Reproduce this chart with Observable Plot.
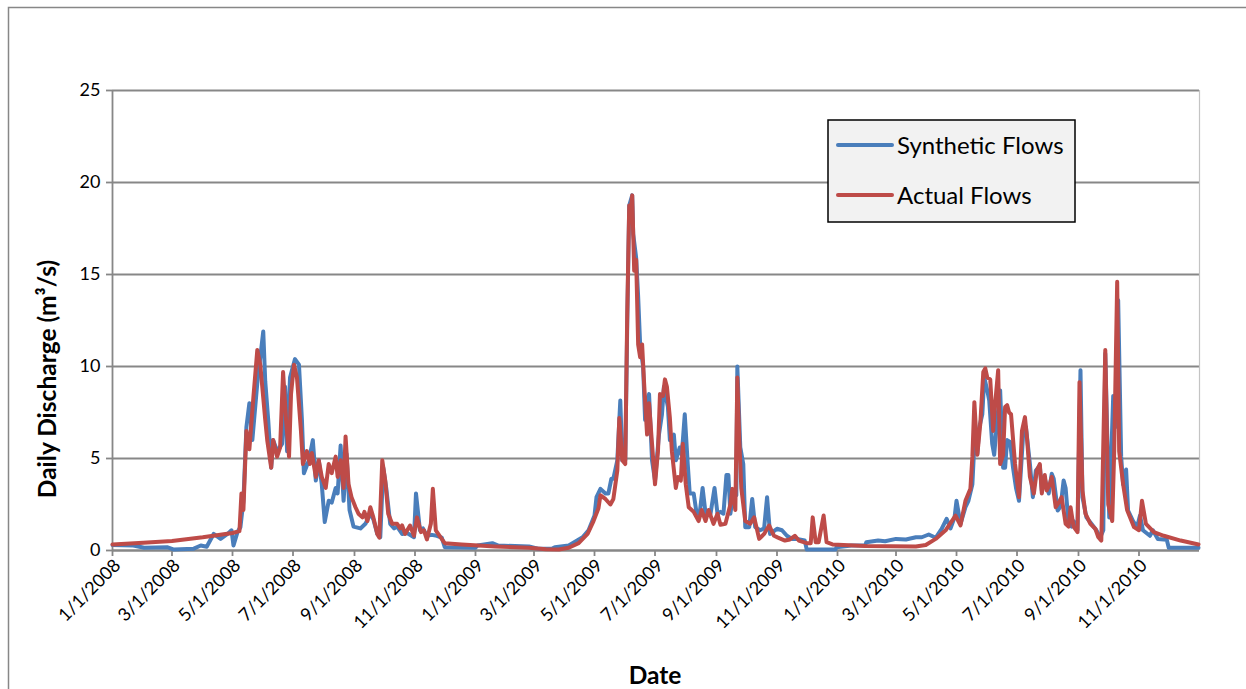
<!DOCTYPE html>
<html>
<head>
<meta charset="utf-8">
<script src="https://cdn.jsdelivr.net/npm/d3@7"></script>
<script src="https://cdn.jsdelivr.net/npm/@observablehq/plot@0.6"></script>
<style>
  html, body { margin: 0; padding: 0; background: #fff; }
  #chart { width: 1246px; height: 689px; overflow: hidden; }
</style>
</head>
<body>
<div id="chart"></div>
<script>
// Daily discharge (m³/s): [date, flow] readings for each series
const syntheticFlows = [
  ["2008-01-01",0.30],["2008-01-22",0.27],["2008-02-02",0.15],["2008-02-25",0.18],["2008-03-03",0.05],
  ["2008-03-23",0.10],["2008-03-30",0.27],["2008-04-05",0.20],["2008-04-12",0.90],["2008-04-19",0.63],
  ["2008-04-26",0.90],["2008-04-30",1.10],["2008-05-02",0.27],["2008-05-06",1.00],["2008-05-09",1.27],
  ["2008-05-12",2.70],["2008-05-15",6.70],["2008-05-18",8.00],["2008-05-21",6.00],["2008-05-26",9.10],
  ["2008-05-29",10.50],["2008-06-01",11.90],["2008-06-03",9.20],["2008-06-06",7.10],["2008-06-09",4.50],
  ["2008-06-11",6.00],["2008-06-15",5.40],["2008-06-20",5.80],["2008-06-23",8.90],["2008-06-25",5.40],
  ["2008-06-28",9.40],["2008-07-03",10.40],["2008-07-07",10.10],["2008-07-10",7.10],["2008-07-12",4.20],
  ["2008-07-17",4.90],["2008-07-21",6.00],["2008-07-24",3.80],["2008-07-27",4.90],["2008-07-30",3.60],
  ["2008-08-02",1.55],["2008-08-06",2.70],["2008-08-09",2.60],["2008-08-13",3.40],["2008-08-15",3.10],
  ["2008-08-18",5.70],["2008-08-21",2.70],["2008-08-24",5.25],["2008-08-27",2.20],["2008-08-31",1.30],
  ["2008-09-07",1.20],["2008-09-12",1.45],["2008-09-17",2.00],["2008-09-20",1.70],["2008-09-24",0.90],
  ["2008-09-27",0.72],["2008-09-30",4.50],["2008-10-03",3.40],["2008-10-07",1.45],["2008-10-11",1.20],
  ["2008-10-14",1.30],["2008-10-19",0.90],["2008-10-24",0.95],["2008-10-31",0.72],["2008-11-02",3.10],
  ["2008-11-06",1.10],["2008-11-09",1.20],["2008-11-13",0.80],["2008-11-18",0.85],["2008-11-23",0.80],
  ["2008-11-28",0.70],["2008-12-01",0.18],["2009-01-01",0.15],["2009-01-03",0.27],["2009-01-18",0.40],
  ["2009-01-24",0.27],["2009-02-24",0.22],["2009-03-06",0.09],["2009-03-19",0.09],["2009-03-22",0.18],
  ["2009-04-05",0.27],["2009-04-19",0.72],["2009-04-25",1.10],["2009-05-01",1.90],["2009-05-03",2.90],
  ["2009-05-07",3.35],["2009-05-12",3.10],["2009-05-15",3.10],["2009-05-18",3.90],["2009-05-20",3.90],
  ["2009-05-24",4.90],["2009-05-27",8.15],["2009-05-29",4.90],["2009-06-01",4.90],["2009-06-03",12.30],
  ["2009-06-05",18.75],["2009-06-08",19.30],["2009-06-09",17.20],["2009-06-12",15.90],["2009-06-14",13.80],
  ["2009-06-16",11.20],["2009-06-19",10.00],["2009-06-21",7.10],["2009-06-23",8.15],["2009-06-25",8.50],
  ["2009-06-28",4.90],["2009-07-01",3.80],["2009-07-05",6.30],["2009-07-08",7.40],["2009-07-10",8.90],
  ["2009-07-14",7.80],["2009-07-16",6.00],["2009-07-20",6.30],["2009-07-22",4.90],["2009-07-26",5.60],
  ["2009-07-28",5.20],["2009-07-31",7.40],["2009-08-03",4.70],["2009-08-05",3.10],["2009-08-09",3.10],
  ["2009-08-12",2.00],["2009-08-15",2.00],["2009-08-18",3.40],["2009-08-21",2.00],["2009-08-23",2.10],
  ["2009-08-26",2.00],["2009-08-30",3.40],["2009-09-02",2.00],["2009-09-05",2.10],["2009-09-08",2.00],
  ["2009-09-11",4.10],["2009-09-13",4.10],["2009-09-15",2.00],["2009-09-18",3.10],["2009-09-21",3.00],
  ["2009-09-22",10.00],["2009-09-25",5.60],["2009-09-28",4.70],["2009-09-30",1.27],["2009-10-04",1.27],
  ["2009-10-07",2.80],["2009-10-10",1.27],["2009-10-15",1.10],["2009-10-19",1.20],["2009-10-22",2.90],
  ["2009-10-25",0.90],["2009-11-01",1.18],["2009-11-06",1.10],["2009-11-11",0.80],["2009-11-16",0.63],
  ["2009-11-21",0.63],["2009-11-29",0.54],["2009-12-01",0.05],["2009-12-30",0.05],["2009-12-31",0.18],
  ["2010-01-15",0.27],["2010-01-29",0.27],["2010-01-30",0.45],["2010-02-11",0.54],["2010-02-18",0.50],
  ["2010-03-01",0.63],["2010-03-11",0.60],["2010-03-21",0.72],["2010-03-27",0.72],["2010-04-03",0.87],
  ["2010-04-10",0.69],["2010-04-16",1.18],["2010-04-21",1.72],["2010-04-25",1.20],["2010-04-29",1.80],
  ["2010-05-01",2.70],["2010-05-05",1.45],["2010-05-10",2.35],["2010-05-13",2.70],["2010-05-17",3.60],
  ["2010-05-19",5.80],["2010-05-22",5.25],["2010-05-24",6.70],["2010-05-27",7.40],["2010-05-29",9.40],
  ["2010-06-01",8.70],["2010-06-03",8.15],["2010-06-06",5.80],["2010-06-08",5.20],["2010-06-11",7.10],
  ["2010-06-14",8.70],["2010-06-17",4.50],["2010-06-19",4.50],["2010-06-21",6.00],["2010-06-24",5.90],
  ["2010-06-27",4.50],["2010-06-30",3.40],["2010-07-03",2.70],["2010-07-07",6.16],["2010-07-10",6.70],
  ["2010-07-14",4.70],["2010-07-17",2.90],["2010-07-20",4.35],["2010-07-24",4.60],["2010-07-26",3.26],
  ["2010-07-29",3.90],["2010-08-02",3.10],["2010-08-05",4.17],["2010-08-07",3.90],["2010-08-11",2.17],
  ["2010-08-14",2.40],["2010-08-17",3.80],["2010-08-19",3.40],["2010-08-22",1.45],["2010-08-25",1.30],
  ["2010-08-27",1.60],["2010-08-31",1.10],["2010-09-03",9.80],["2010-09-05",2.90],["2010-09-09",1.80],
  ["2010-09-14",1.45],["2010-09-19",1.10],["2010-09-23",0.72],["2010-09-26",1.10],["2010-09-28",10.70],
  ["2010-10-02",1.80],["2010-10-06",8.40],["2010-10-08",6.70],["2010-10-11",13.60],["2010-10-14",5.10],
  ["2010-10-16",3.60],["2010-10-19",4.40],["2010-10-21",2.17],["2010-10-26",1.60],["2010-10-30",1.27],
  ["2010-11-02",1.90],["2010-11-05",1.10],["2010-11-12",0.80],["2010-11-15",1.10],["2010-11-20",0.63],
  ["2010-11-29",0.58],["2010-12-01",0.15],["2010-12-31",0.15]
];

const actualFlows = [
  ["2008-01-01",0.33],["2008-02-01",0.42],["2008-03-01",0.52],["2008-04-01",0.72],["2008-05-01",0.95],
  ["2008-05-08",1.05],["2008-05-10",3.10],["2008-05-12",2.20],["2008-05-15",6.50],["2008-05-18",5.50],
  ["2008-05-22",8.30],["2008-05-26",10.90],["2008-05-29",10.10],["2008-06-03",7.10],["2008-06-05",6.00],
  ["2008-06-09",4.50],["2008-06-11",6.00],["2008-06-15",5.10],["2008-06-18",5.60],["2008-06-21",9.70],
  ["2008-06-24",7.10],["2008-06-27",5.10],["2008-06-29",8.50],["2008-07-02",10.10],["2008-07-05",9.40],
  ["2008-07-09",6.50],["2008-07-11",4.70],["2008-07-15",5.40],["2008-07-18",4.70],["2008-07-20",5.30],
  ["2008-07-24",4.00],["2008-07-27",4.90],["2008-07-30",4.00],["2008-08-03",3.40],["2008-08-06",4.70],
  ["2008-08-09",4.20],["2008-08-13",5.10],["2008-08-15",4.00],["2008-08-18",4.90],["2008-08-21",3.40],
  ["2008-08-23",6.20],["2008-08-26",3.60],["2008-08-29",2.90],["2008-09-02",2.35],["2008-09-05",2.00],
  ["2008-09-09",1.80],["2008-09-11",2.10],["2008-09-14",1.60],["2008-09-17",2.35],["2008-09-20",1.80],
  ["2008-09-24",0.90],["2008-09-26",0.70],["2008-09-29",4.90],["2008-10-02",3.80],["2008-10-05",2.00],
  ["2008-10-09",1.45],["2008-10-14",1.45],["2008-10-17",1.20],["2008-10-19",1.36],["2008-10-22",0.90],
  ["2008-10-27",1.36],["2008-10-31",0.80],["2008-11-03",1.80],["2008-11-07",1.00],["2008-11-10",1.10],
  ["2008-11-13",0.60],["2008-11-17",1.45],["2008-11-19",3.35],["2008-11-22",1.10],["2008-11-27",0.70],
  ["2008-12-01",0.40],["2008-12-18",0.33],["2009-01-21",0.22],["2009-02-24",0.15],["2009-03-13",0.07],
  ["2009-03-26",0.05],["2009-04-05",0.15],["2009-04-15",0.40],["2009-04-24",0.90],["2009-04-30",1.60],
  ["2009-05-05",2.30],["2009-05-07",3.00],["2009-05-12",2.80],["2009-05-17",2.50],["2009-05-20",2.80],
  ["2009-05-24",4.35],["2009-05-26",7.20],["2009-05-29",4.90],["2009-06-01",4.70],["2009-06-03",12.90],
  ["2009-06-05",18.75],["2009-06-06",18.10],["2009-06-08",19.30],["2009-06-10",15.20],["2009-06-12",15.80],
  ["2009-06-14",11.20],["2009-06-16",10.50],["2009-06-18",11.20],["2009-06-20",9.10],["2009-06-23",6.30],
  ["2009-06-25",8.00],["2009-06-28",5.80],["2009-07-01",3.60],["2009-07-04",5.40],["2009-07-06",8.50],
  ["2009-07-09",8.40],["2009-07-11",9.30],["2009-07-13",8.90],["2009-07-16",7.20],["2009-07-18",5.40],
  ["2009-07-22",3.40],["2009-07-24",4.00],["2009-07-27",3.80],["2009-07-29",5.80],["2009-08-01",3.60],
  ["2009-08-04",2.35],["2009-08-09",2.10],["2009-08-14",1.60],["2009-08-17",2.20],["2009-08-21",1.60],
  ["2009-08-24",2.20],["2009-08-29",1.45],["2009-09-02",2.00],["2009-09-05",1.40],["2009-09-10",1.45],
  ["2009-09-15",2.50],["2009-09-17",3.35],["2009-09-20",2.20],["2009-09-22",9.40],["2009-09-24",6.00],
  ["2009-09-26",3.40],["2009-09-30",1.60],["2009-10-05",1.45],["2009-10-09",1.80],["2009-10-14",0.63],
  ["2009-10-19",0.90],["2009-10-24",1.36],["2009-10-29",0.80],["2009-11-02",0.70],["2009-11-09",0.54],
  ["2009-11-14",0.60],["2009-11-19",0.80],["2009-11-23",0.54],["2009-12-01",0.40],["2009-12-05",0.40],
  ["2009-12-07",1.80],["2009-12-10",0.45],["2009-12-13",0.45],["2009-12-18",1.90],["2009-12-21",0.45],
  ["2009-12-27",0.33],["2010-01-29",0.25],["2010-03-21",0.22],["2010-03-31",0.30],["2010-04-10",0.63],
  ["2010-04-20",1.10],["2010-04-30",1.90],["2010-05-05",1.36],["2010-05-10",2.70],["2010-05-15",3.35],
  ["2010-05-17",5.10],["2010-05-19",8.06],["2010-05-22",5.20],["2010-05-25",6.90],["2010-05-28",9.70],
  ["2010-05-30",9.90],["2010-06-01",9.40],["2010-06-04",9.30],["2010-06-07",6.50],["2010-06-09",8.00],
  ["2010-06-12",9.80],["2010-06-14",4.70],["2010-06-17",5.20],["2010-06-19",7.80],["2010-06-21",7.90],
  ["2010-06-23",7.50],["2010-06-25",7.40],["2010-06-29",4.70],["2010-07-03",2.90],["2010-07-06",6.50],
  ["2010-07-09",7.25],["2010-07-11",6.16],["2010-07-14",4.00],["2010-07-18",3.10],["2010-07-21",4.35],
  ["2010-07-24",4.70],["2010-07-26",3.10],["2010-07-29",4.10],["2010-07-31",3.26],["2010-08-03",3.60],
  ["2010-08-05",4.00],["2010-08-09",2.35],["2010-08-12",2.60],["2010-08-15",2.90],["2010-08-19",1.45],
  ["2010-08-22",1.30],["2010-08-24",2.35],["2010-08-27",1.30],["2010-08-31",1.00],["2010-09-02",9.15],
  ["2010-09-05",3.26],["2010-09-08",2.00],["2010-09-13",1.45],["2010-09-18",1.18],["2010-09-21",0.72],
  ["2010-09-24",0.54],["2010-09-28",10.90],["2010-10-01",2.50],["2010-10-05",1.60],["2010-10-07",5.40],
  ["2010-10-10",14.60],["2010-10-12",5.40],["2010-10-16",3.60],["2010-10-20",2.20],["2010-10-27",1.27],
  ["2010-11-01",1.10],["2010-11-04",2.70],["2010-11-08",1.45],["2010-11-16",1.00],["2010-11-26",0.80],
  ["2010-12-13",0.54],["2010-12-31",0.33]
];

// Axis ticks: every second month, and the discharge gridlines
const dateTicks = [
  "2008-01-01","2008-03-01","2008-05-01","2008-07-01","2008-09-01","2008-11-01",
  "2009-01-01","2009-03-01","2009-05-01","2009-07-01","2009-09-01","2009-11-01",
  "2010-01-01","2010-03-01","2010-05-01","2010-07-01","2010-09-01","2010-11-01"
];
const flowTicks = [0, 5, 10, 15, 20, 25];

const seriesNames = ["Synthetic Flows", "Actual Flows"];
const seriesColors = ["#4a7ebb", "#be4b48"];
const dateSpan = ["2008-01-01", "2011-01-01"];

const toRows = (pairs, series) => pairs.map(([d, v]) => ({date: new Date(d), flow: v, series}));
const synthetic = toRows(syntheticFlows, seriesNames[0]);
const actual = toRows(actualFlows, seriesNames[1]);
const tickValues = dateTicks.map(d => new Date(d));

const fmtDate = d => `${d.getUTCMonth() + 1}/${d.getUTCDate()}/${d.getUTCFullYear()}`;
const gridGrey = "#878787";
const lineWidth = 4;

const chart = Plot.plot({
  width: 1246,
  height: 689,
  marginLeft: 112,
  marginRight: 47,
  marginTop: 90,
  marginBottom: 139,
  style: {fontFamily: "Lato, sans-serif", background: "#fff", color: "#000"},
  x: {type: "utc", domain: dateSpan.map(d => new Date(d))},
  y: {domain: [0, 25]},
  marks: [
    Plot.gridY(flowTicks, {stroke: gridGrey, strokeOpacity: 1, strokeWidth: 1.8}),
    Plot.ruleX([new Date(dateSpan[1])], {stroke: "#c4c4c4", strokeWidth: 1.2}),
    Plot.ruleX([new Date(dateSpan[0])], {stroke: gridGrey, strokeWidth: 1.8}),
    Plot.ruleY([0], {stroke: gridGrey, strokeWidth: 1.8}),
    Plot.axisY(flowTicks, {tickSize: 6, tickPadding: 6, fontSize: 18, stroke: gridGrey, strokeWidth: 1.8, fill: "#000", label: null}),
    // tick marks on the date axis
    Plot.axisX(tickValues, {tickFormat: () => "", tickSize: 6, stroke: gridGrey, strokeWidth: 1.8, label: null}),
    // slanted date labels
    Plot.axisX(tickValues, {tickFormat: fmtDate, tickRotate: -45, tickSize: 0, tickPadding: 12, dx: 5, fontSize: 18, fill: "#000", label: null}),
    Plot.line(synthetic, {x: "date", y: "flow", stroke: seriesColors[0], strokeWidth: lineWidth}),
    Plot.line(actual, {x: "date", y: "flow", stroke: seriesColors[1], strokeWidth: lineWidth})
  ]
});

const svg = d3.select(chart);

// chart-area border
svg.append("rect")
  .attr("x", 8.5).attr("y", 7.5).attr("width", 1300).attr("height", 800)
  .attr("fill", "none").attr("stroke", gridGrey).attr("stroke-width", 1.5);

// axis titles
svg.append("text")
  .attr("x", 655).attr("y", 684)
  .attr("text-anchor", "middle")
  .attr("font-family", "Lato, sans-serif").attr("font-weight", "bold").attr("font-size", 24.5)
  .text("Date");
svg.append("text")
  .attr("transform", "translate(56,379) rotate(-90)")
  .attr("text-anchor", "middle")
  .attr("font-family", "Lato, sans-serif").attr("font-weight", "bold").attr("font-size", 24.5)
  .text("Daily Discharge (m³/s)");

// legend
const legend = svg.append("g").attr("transform", "translate(828,120)");
legend.append("rect")
  .attr("width", 247).attr("height", 102)
  .attr("fill", "#f2f2f2").attr("stroke", "#000").attr("stroke-width", 1.5);
seriesNames.forEach((name, i) => {
  const y = 25 + i * 50;
  legend.append("line")
    .attr("x1", 10).attr("x2", 64).attr("y1", y).attr("y2", y)
    .attr("stroke", seriesColors[i]).attr("stroke-width", lineWidth).attr("stroke-linecap", "round");
  legend.append("text")
    .attr("x", 69).attr("y", y + 9)
    .attr("text-anchor", "start")
    .attr("font-family", "Lato, sans-serif").attr("font-size", 24)
    .text(name);
});

document.getElementById("chart").appendChild(chart);
</script>
</body>
</html>
